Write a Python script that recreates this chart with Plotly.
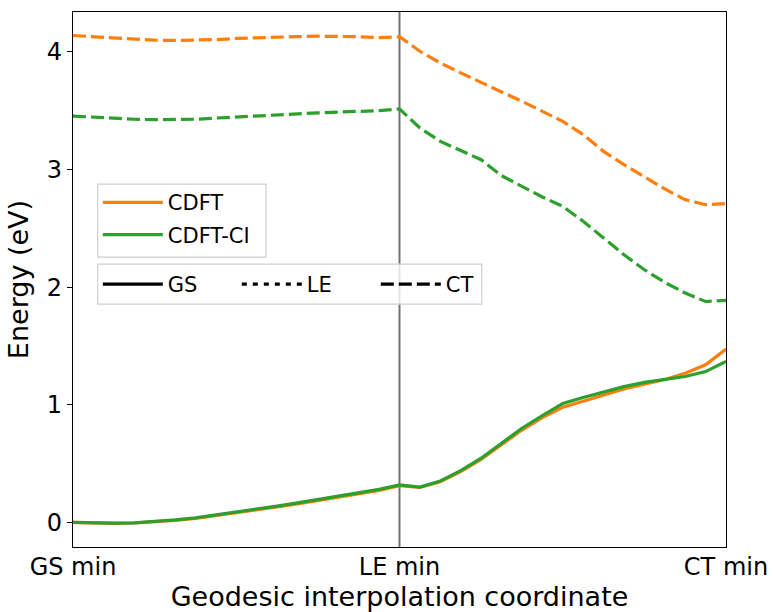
import numpy as np
import plotly.graph_objects as go

# interpolation coordinate: 0 = GS min, 1 = LE min, 2 = CT min (16 steps per segment)
x = np.linspace(0, 2, 33)

cdft_gs = [0.000, -0.006, -0.009, -0.006, 0.002, 0.016, 0.034, 0.057, 0.080, 0.103, 0.130,
           0.157, 0.185, 0.212, 0.240, 0.272, 0.312,
           0.296, 0.345, 0.432, 0.535, 0.660, 0.785, 0.890, 0.978, 1.030, 1.085,
           1.135, 1.175, 1.215, 1.268, 1.340, 1.473]
cdft_ci_gs = [0.000, -0.005, -0.007, -0.004, 0.005, 0.020, 0.038, 0.062, 0.086, 0.110, 0.138,
              0.165, 0.193, 0.220, 0.248, 0.280, 0.318,
              0.299, 0.352, 0.440, 0.545, 0.673, 0.800, 0.908, 1.010, 1.062, 1.110,
              1.154, 1.190, 1.214, 1.240, 1.282, 1.368]
cdft_ct = [4.140, 4.130, 4.115, 4.105, 4.100, 4.098, 4.100, 4.105, 4.115, 4.122, 4.127,
           4.131, 4.134, 4.135, 4.130, 4.122, 4.130,
           4.006, 3.907, 3.822, 3.742, 3.666, 3.580, 3.495, 3.410, 3.297, 3.155,
           3.042, 2.937, 2.835, 2.744, 2.701, 2.710]
cdft_ci_ct = [3.455, 3.445, 3.435, 3.428, 3.424, 3.423, 3.428, 3.438, 3.448, 3.458, 3.467,
              3.475, 3.482, 3.489, 3.495, 3.501, 3.516,
              3.354, 3.240, 3.161, 3.084, 2.948, 2.857, 2.767, 2.687, 2.560, 2.418,
              2.276, 2.148, 2.040, 1.950, 1.878, 1.887]

tick_vals = [0, 1, 2]
tick_text = ["GS min", "LE min", "CT min"]
method_names = ["CDFT", "CDFT-CI"]
state_names = ["GS", "LE", "CT"]

ORANGE = "#ff7f0e"
GREEN = "#2ca02c"
LW = 3.2
DASH = "13px,5px"
DOT = "5px,6px"

fig = go.Figure()

# data lines
fig.add_trace(go.Scatter(x=x, y=cdft_gs, mode="lines", line=dict(color=ORANGE, width=LW), showlegend=False))
fig.add_trace(go.Scatter(x=x, y=cdft_ci_gs, mode="lines", line=dict(color=GREEN, width=LW), showlegend=False))
fig.add_trace(go.Scatter(x=x, y=cdft_ct, mode="lines", line=dict(color=ORANGE, width=LW, dash=DASH), showlegend=False))
fig.add_trace(go.Scatter(x=x, y=cdft_ci_ct, mode="lines", line=dict(color=GREEN, width=LW, dash=DASH), showlegend=False))

# legend 1: methods
for name, col in zip(method_names, [ORANGE, GREEN]):
    fig.add_trace(go.Scatter(x=[None], y=[None], mode="lines", name=name,
                             line=dict(color=col, width=LW), legend="legend",
                             legendgroup=name))
# legend 2: states
for name, dash in zip(state_names, ["solid", DOT, DASH]):
    fig.add_trace(go.Scatter(x=[None], y=[None], mode="lines", name=name,
                             line=dict(color="black", width=LW, dash=dash), legend="legend2"))

FONT = "DejaVu Sans"
BOX = dict(type="rect", xref="paper", yref="paper", layer="above",
           line=dict(color="#d0d0d0", width=1.2), fillcolor="rgba(255,255,255,0.8)")
fig.update_layout(
    width=773, height=612,
    margin=dict(l=73, r=47, t=12, b=65, autoexpand=False),
    paper_bgcolor="white", plot_bgcolor="white",
    font=dict(family=FONT, size=24, color="black"),
    shapes=[
        dict(type="line", xref="x", yref="paper", x0=1, x1=1, y0=0, y1=1,
             line=dict(color="rgba(0,0,0,0.55)", width=2), layer="below"),
        dict(BOX, x0=0.0378, x1=0.2957, y0=0.5418, y1=0.6783),
        dict(BOX, x0=0.0378, x1=0.626, y0=0.4539, y1=0.5287),
    ],
    legend=dict(x=0.038, y=0.682, xanchor="left", yanchor="top",
                font=dict(family=FONT, size=21, color="black"),
                bgcolor="rgba(0,0,0,0)", borderwidth=0,
                tracegroupgap=2, itemwidth=60),
    legend2=dict(x=0.038, y=0.529, xanchor="left", yanchor="top", orientation="h",
                 font=dict(family=FONT, size=21, color="black"),
                 bgcolor="rgba(0,0,0,0)", borderwidth=0,
                 entrywidth=64, entrywidthmode="pixels", itemwidth=60),
)
fig.update_xaxes(range=[0, 2], tickvals=tick_vals, ticktext=tick_text, automargin=False,
                 showgrid=False, zeroline=False, showline=True, mirror=True,
                 linecolor="black", linewidth=1.3, ticks="", ticklabelstandoff=-2,
                 tickfont=dict(family=FONT, size=24),
                 title=dict(text="Geodesic interpolation coordinate",
                            font=dict(family=FONT, size=27), standoff=4))
fig.update_yaxes(range=[-0.21, 4.34], tickvals=[0, 1, 2, 3, 4], automargin=False,
                 showgrid=False, zeroline=False, showline=True, mirror=True,
                 linecolor="black", linewidth=1.3, ticks="outside", ticklen=5,
                 tickcolor="black", tickfont=dict(family=FONT, size=24),
                 title=dict(text="Energy (eV)", font=dict(family=FONT, size=27), standoff=10))

fig.write_html("out.html")
